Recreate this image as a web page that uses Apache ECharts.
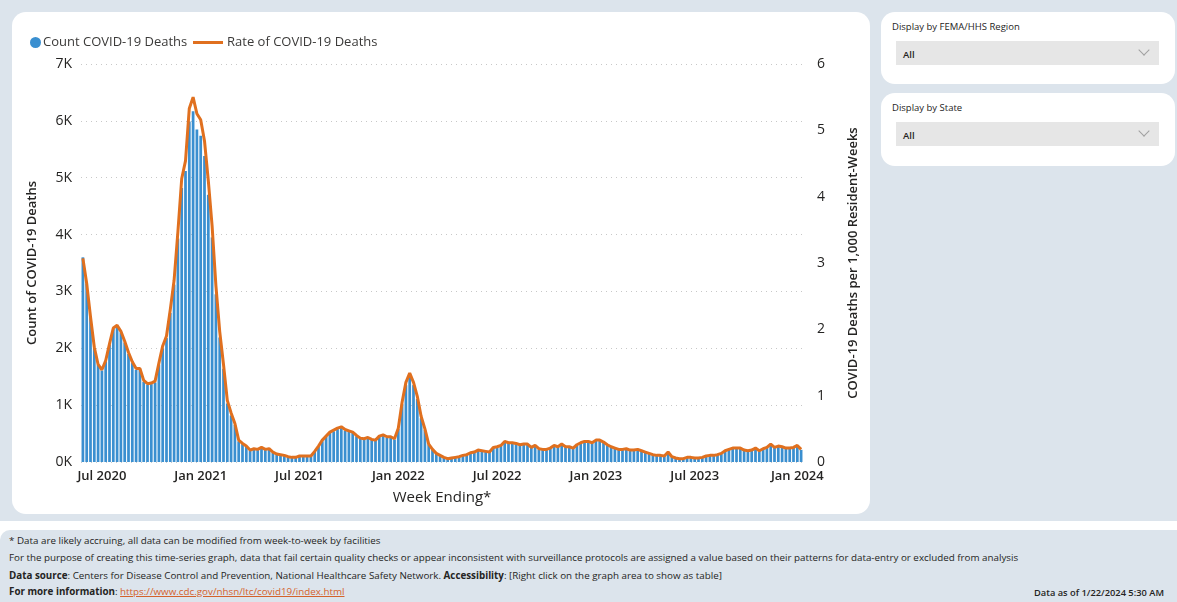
<!DOCTYPE html>
<html>
<head>
<meta charset="utf-8">
<script src="https://cdn.jsdelivr.net/npm/echarts@6/dist/echarts.min.js"></script>
<style>
  html, body { margin:0; padding:0; width:1177px; height:602px; background:#ffffff; overflow:hidden; font-family:"Open Sans","Noto Sans",sans-serif; color:#252423; }
  #top { position:absolute; left:0; top:0; width:1177px; height:521px; background:#dce4ec; }
  #card { position:absolute; left:12px; top:12px; width:858px; height:502px; background:#fff; border-radius:14px; }
  .side { position:absolute; left:881px; width:294px; background:#fff; border-radius:14px; }
  .side .ttl { position:absolute; left:11px; top:8px; font-size:9.5px; color:#252423; }
  .side .box { position:absolute; left:15px; top:29px; width:263px; height:24px; background:#e6e6e6; }
  .side .box span { position:absolute; left:7px; top:7px; font-size:9.5px; font-weight:600; color:#252423; }
  .side .box i { position:absolute; right:11px; top:5px; width:7px; height:7px; border-right:1px solid #a0a0a0; border-bottom:1px solid #a0a0a0; transform:rotate(45deg); }
  #foot { position:absolute; left:0; top:530px; width:1177px; height:72px; background:#dce4ec; border-radius:10px 0 0 0; font-size:9.8px; }
  #foot div { position:absolute; left:9px; white-space:nowrap; }
  #foot b { font-weight:700; }
  #foot a { color:#d4622b; text-decoration:underline; }
  #chart { position:absolute; left:0; top:0; width:870px; height:520px; }
</style>
</head>
<body>
<div id="top"></div>
<div id="card"></div>
<div class="side" style="top:12px;height:72px;"><div class="ttl">Display by FEMA/HHS Region</div><div class="box"><span>All</span><i></i></div></div>
<div class="side" style="top:93px;height:73px;"><div class="ttl">Display by State</div><div class="box"><span>All</span><i></i></div></div>
<div id="foot">
  <div style="top:4px;">* Data are likely accruing, all data can be modified from week-to-week by facilities</div>
  <div style="top:21px;">For the purpose of creating this time-series graph, data that fail certain quality checks or appear inconsistent with surveillance protocols are assigned a value based on their patterns for data-entry or excluded from analysis</div>
  <div style="top:39px;"><b>Data source</b>: Centers for Disease Control and Prevention, National Healthcare Safety Network. <b>Accessibility</b>: [Right click on the graph area to show as table]</div>
  <div style="top:55px;"><b>For more information</b>: <a>https://www.cdc.gov/nhsn/ltc/covid19/index.html</a></div>
  <div style="top:56px;left:auto;right:13px;font-weight:600;font-size:9.3px;">Data as of 1/22/2024 5:30 AM</div>
</div>
<div id="chart"></div>
<script>
// Weekly data, week ending Sundays, first week ending 2020-05-31
const firstWeekEnding = '2020-05-31';
const countDeaths = [
3600,3140,2550,2010,1710,1610,1770,2060,2340,2380,2280,2100,1900,1740,1620,1630,1410,1360,1370,1400,
1710,2000,2180,2620,3120,3930,4820,5120,5990,6170,5850,5740,5380,4700,3950,2950,2190,1640,1030,820,
650,365,315,268,200,220,210,248,210,220,162,134,124,115,86,77,77,96,106,96,
106,183,270,366,443,510,540,578,597,549,530,511,453,405,395,415,386,376,444,463,
425,425,396,580,1015,1352,1505,1352,1110,772,560,309,212,145,116,77,58,68,77,87,
116,126,155,174,203,194,184,174,252,261,281,349,330,330,320,291,301,310,252,281,
223,213,213,242,281,262,301,262,262,242,291,330,349,349,330,378,368,339,291,262,
242,213,213,223,204,204,213,194,165,145,126,116,116,107,165,87,68,58,58,78,
78,68,68,78,97,116,116,126,146,194,214,243,233,243,204,194,204,233,194,223,
253,311,253,272,262,233,243,253,282,214
];
const rateDeaths = [
3.07,2.69,2.19,1.73,1.47,1.39,1.53,1.78,2.02,2.06,1.97,1.82,1.65,1.51,1.41,1.41,1.23,1.18,1.19,1.22,
1.49,1.75,1.90,2.30,2.74,3.47,4.27,4.54,5.33,5.50,5.25,5.16,4.84,4.24,3.56,2.66,1.97,1.47,0.93,0.74,
0.58,0.33,0.28,0.24,0.18,0.20,0.19,0.22,0.19,0.20,0.15,0.12,0.11,0.10,0.08,0.07,0.07,0.09,0.09,0.09,
0.09,0.16,0.24,0.33,0.39,0.45,0.48,0.51,0.53,0.49,0.47,0.45,0.40,0.36,0.35,0.37,0.34,0.33,0.39,0.41,
0.38,0.38,0.35,0.51,0.90,1.20,1.34,1.20,0.99,0.69,0.50,0.27,0.19,0.13,0.10,0.07,0.05,0.06,0.07,0.08,
0.10,0.11,0.14,0.15,0.18,0.17,0.16,0.15,0.22,0.23,0.25,0.31,0.29,0.29,0.28,0.26,0.27,0.27,0.22,0.25,
0.20,0.19,0.19,0.21,0.25,0.23,0.27,0.23,0.23,0.21,0.26,0.29,0.31,0.31,0.29,0.33,0.33,0.30,0.26,0.23,
0.21,0.19,0.19,0.20,0.18,0.18,0.19,0.17,0.15,0.13,0.11,0.10,0.10,0.09,0.15,0.08,0.06,0.05,0.05,0.07,
0.07,0.06,0.06,0.07,0.09,0.10,0.10,0.11,0.13,0.17,0.19,0.21,0.21,0.21,0.18,0.17,0.18,0.21,0.17,0.20,
0.22,0.27,0.22,0.24,0.23,0.21,0.21,0.22,0.25,0.19
];
const monthNames = ['Jan','Feb','Mar','Apr','May','Jun','Jul','Aug','Sep','Oct','Nov','Dec'];
const tickMonths = [0, 6]; // Jan and Jul
const leftTicks = [0,1000,2000,3000,4000,5000,6000,7000];
const rightTicks = [0,1,2,3,4,5,6];

const weekEndings = [];
const t0 = Date.parse(firstWeekEnding + 'T00:00:00Z');
for (let i = 0; i < countDeaths.length; i++) {
  weekEndings.push(new Date(t0 + i * 7 * 86400000).toISOString().slice(0, 10));
}
function isTick(v) {
  const m = parseInt(v.slice(5, 7), 10) - 1, d = parseInt(v.slice(8, 10), 10);
  return tickMonths.indexOf(m) >= 0 && d <= 7;
}

const blue = '#3a8fd0', orange = '#e0701f';
const chart = echarts.init(document.getElementById('chart'), null, {renderer:'canvas'});
chart.setOption({
  backgroundColor: 'transparent',
  animation: false,
  textStyle: { fontFamily: '"Open Sans","Noto Sans",sans-serif' },
  legend: [
    { left: 25, top: 31, itemWidth: 11, itemHeight: 11, itemGap: 10,
      data: [{ name: 'Count COVID-19 Deaths', icon: 'circle' }],
      textStyle: { fontSize: 13, color: '#3b3a39', padding: [0,0,0,-3] } },
    { left: 188, top: 31, itemWidth: 30, itemHeight: 3,
      data: [{ name: 'Rate of COVID-19 Deaths', icon: 'rect' }],
      textStyle: { fontSize: 13, color: '#3b3a39', padding: [0,0,0,-1] } }
  ],
  grid: { left: 81, right: 67, top: 64, bottom: 58 },
  xAxis: {
    type: 'category', data: weekEndings, boundaryGap: true,
    axisLine: { show: false }, axisTick: { show: false },
    name: 'Week Ending*', nameLocation: 'middle', nameGap: 28,
    nameTextStyle: { fontSize: 15, color: '#252423' },
    axisLabel: {
      interval: function (idx, v) { return isTick(v); },
      formatter: function (v) { return monthNames[parseInt(v.slice(5,7),10)-1] + ' ' + v.slice(0,4); },
      fontSize: 13, fontWeight: 600, color: '#252423', margin: 8
    }
  },
  yAxis: [
    { type: 'value', min: leftTicks[0], max: leftTicks[leftTicks.length-1], interval: 1000,
      name: 'Count of COVID-19 Deaths', nameLocation: 'middle', nameGap: 42, nameRotate: 90,
      nameTextStyle: { fontSize: 13, fontWeight: 600, color: '#252423' },
      axisLine: { show: false }, axisTick: { show: false },
      axisLabel: { fontSize: 14, color: '#252423', margin: 9, formatter: function (v) { return (v/1000) + 'K'; } },
      splitLine: { show: true, lineStyle: { color: '#c8c8c8', type: [1, 4], width: 1 } } },
    { type: 'value', min: rightTicks[0], max: rightTicks[rightTicks.length-1], interval: 1, position: 'right',
      name: 'COVID-19 Deaths per 1,000 Resident-Weeks', nameLocation: 'middle', nameGap: 44, nameRotate: 90,
      nameTextStyle: { fontSize: 13, fontWeight: 600, color: '#252423' },
      axisLine: { show: false }, axisTick: { show: false },
      axisLabel: { fontSize: 14, color: '#252423', margin: 14 },
      splitLine: { show: false } }
  ],
  series: [
    { name: 'Count COVID-19 Deaths', type: 'bar', data: countDeaths, yAxisIndex: 0,
      itemStyle: { color: blue }, barCategoryGap: '28%' },
    { name: 'Rate of COVID-19 Deaths', type: 'line', data: rateDeaths, yAxisIndex: 1,
      symbol: 'none', lineStyle: { color: orange, width: 3 }, itemStyle: { color: orange } }
  ]
});
</script>
</body>
</html>
